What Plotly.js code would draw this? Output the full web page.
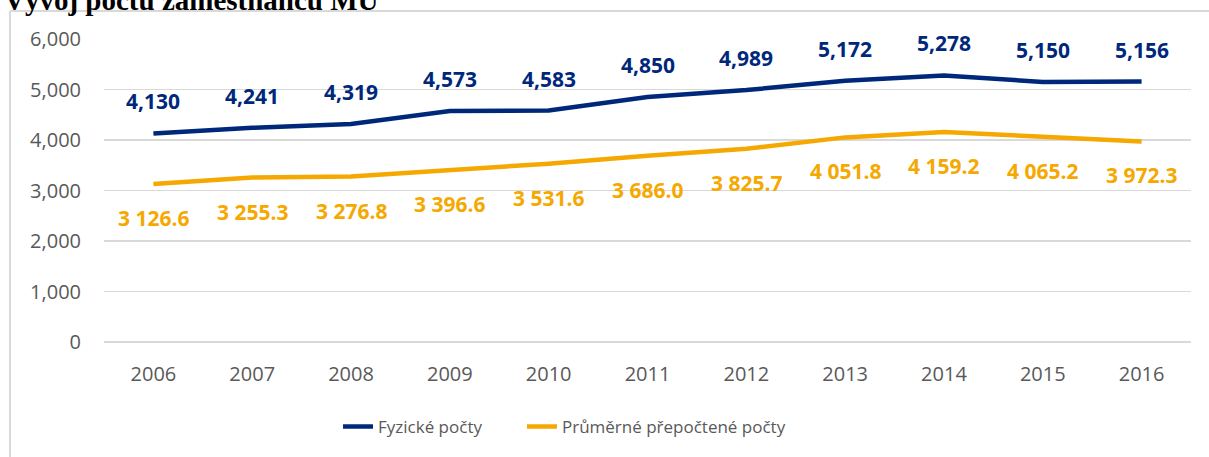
<!DOCTYPE html>
<html>
<head>
<meta charset="utf-8">
<script src="https://cdn.plot.ly/plotly-3.0.1.min.js"></script>
<style>
html,body{margin:0;padding:0;background:#fff;}
#chart{width:1209px;height:457px;}
</style>
</head>
<body>
<div id="chart"></div>
<script>
const years = ["2006","2007","2008","2009","2010","2011","2012","2013","2014","2015","2016"];
const fyzicke = [4130,4241,4319,4573,4583,4850,4989,5172,5278,5150,5156];
const prumerne = [3126.6,3255.3,3276.8,3396.6,3531.6,3686.0,3825.7,4051.8,4159.2,4065.2,3972.3];
const seriesNames = ["Fyzické počty","Průměrné přepočtené počty"];
const titleText = "Vývoj počtu zaměstnanců MU";
const yTicks = [0,1000,2000,3000,4000,5000,6000];

const BLUE = "#00287a";
const ORANGE = "#f5a800";
const GRAY = "#595959";
const GRID = "#d9d9d9";

function fmtComma(v){ return v.toLocaleString("en-US"); }
function fmtSpace(v){
  const s = v.toFixed(1);
  const [i,d] = s.split(".");
  return i.replace(/\B(?=(\d{3})+(?!\d))/g," ") + "." + d;
}

const traces = [
  {x: years, y: fyzicke, name: seriesNames[0], type: "scatter", mode: "lines",
   line: {color: BLUE, width: 4.5}, hoverinfo: "skip", legend: "legend"},
  {x: years, y: prumerne, name: seriesNames[1], type: "scatter", mode: "lines",
   line: {color: ORANGE, width: 4.5}, hoverinfo: "skip", legend: "legend2"}
];

const annotations = [];
years.forEach((yr, i) => {
  annotations.push({x: i, y: fyzicke[i], xref: "x", yref: "y", text: fmtComma(fyzicke[i]),
    showarrow: false, yshift: 32, yanchor: "middle",
    font: {family: "Open Sans", size: 21, color: BLUE, weight: "bold"}});
  annotations.push({x: i, y: prumerne[i], xref: "x", yref: "y", text: fmtSpace(prumerne[i]),
    showarrow: false, yshift: -34, yanchor: "middle",
    font: {family: "Open Sans", size: 21, color: ORANGE, weight: "bold"}});
});
annotations.push({xref: "paper", yref: "paper", x: -0.0935, y: 1.13, xanchor: "left", yanchor: "middle",
  text: "<b>" + titleText + "</b>", showarrow: false,
  font: {family: "Liberation Serif", size: 29, color: "#000"}});

function makeLegend(xpos){
  return {orientation: "h", x: xpos, xanchor: "left", y: -0.28, yanchor: "middle",
    font: {family: "Open Sans", size: 17, color: GRAY}, bgcolor: "rgba(0,0,0,0)", borderwidth: 0};
}

const layout = {
  width: 1209, height: 457,
  margin: {l: 104, r: 18, t: 39, b: 115},
  paper_bgcolor: "#fff", plot_bgcolor: "#fff",
  font: {family: "Open Sans", size: 17, color: GRAY},
  showlegend: true,
  legend: makeLegend(0.2153),
  legend2: makeLegend(0.3845),
  xaxis: {type: "category", range: [-0.5, years.length - 0.5], autorange: false,
    showgrid: false, zeroline: false, showline: false, ticks: "",
    ticklabelstandoff: 18, tickfont: {family: "Open Sans", size: 20, color: GRAY}, fixedrange: true},
  yaxis: {range: [0, 6000], autorange: false, tickvals: yTicks, ticktext: yTicks.map(fmtComma), showgrid: true,
    gridcolor: GRID, gridwidth: 1.5, zeroline: true, zerolinecolor: GRID, zerolinewidth: 1.5,
    showline: false, ticks: "", ticklabelstandoff: 22,
    tickfont: {family: "Open Sans", size: 20, color: GRAY}, fixedrange: true},
  annotations: annotations,
  shapes: [
    {type: "line", xref: "paper", yref: "paper", x0: -0.0865, x1: -0.0865, y0: 1.0924, y1: -0.40,
     line: {color: GRID, width: 2}},
    {type: "line", xref: "paper", yref: "paper", x0: -0.0865, x1: 1.03, y0: 1.0924, y1: 1.0924,
     line: {color: GRID, width: 2}}
  ]
};

Plotly.newPlot("chart", traces, layout, {displayModeBar: false, staticPlot: true});
</script>
</body>
</html>
